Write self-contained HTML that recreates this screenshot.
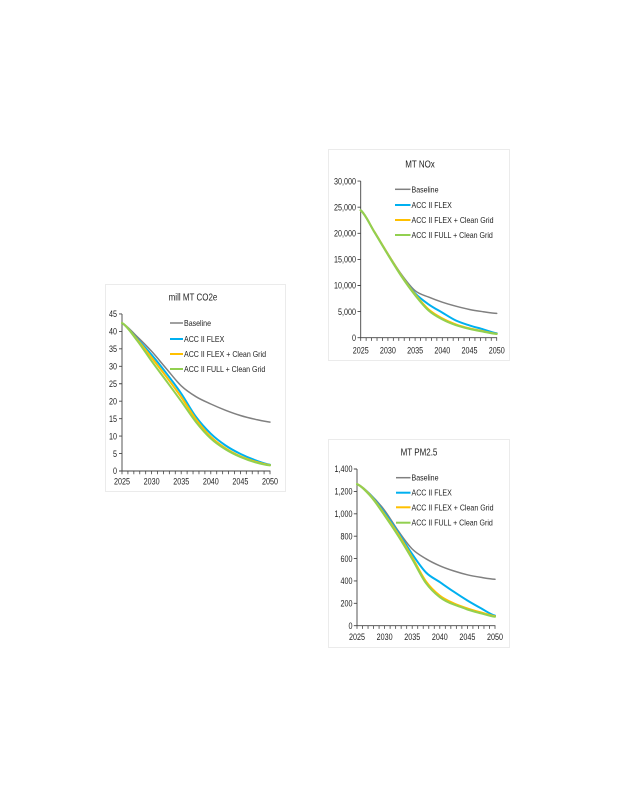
<!DOCTYPE html>
<html><head><meta charset="utf-8"><style>
html,body{margin:0;padding:0;background:#fff;}
svg{display:block;}
text{font-family:"Liberation Sans",Arial,sans-serif;fill:#1e1e1e;}
</style></head><body>
<svg width="618" height="800" viewBox="0 0 618 800" xmlns="http://www.w3.org/2000/svg">
<rect x="0" y="0" width="618" height="800" fill="#fff"/>

<!-- ================= CO2 chart ================= -->
<rect x="105.5" y="284.5" width="180" height="207" fill="#fff" stroke="#ebebeb"/>
<text transform="translate(193,300.7) scale(0.8,1)" text-anchor="middle" font-size="10">mill MT CO2e</text>
<path d="M122,314V471H270.4" fill="none" stroke="#444" stroke-width="0.9"/>
<path d="M119,471H122M119,453.55H122M119,436.1H122M119,418.65H122M119,401.2H122M119,383.75H122M119,366.3H122M119,348.85H122M119,331.4H122M119,313.95H122" stroke="#444" stroke-width="0.9"/>
<line x1="121.6" y1="472.6" x2="270.5" y2="472.6" stroke="#444" stroke-width="3.2" stroke-dasharray="0.8 5.12"/>
<g font-size="9">
<text transform="translate(117,474.2) scale(0.8,1)" text-anchor="end">0</text>
<text transform="translate(117,456.75) scale(0.8,1)" text-anchor="end">5</text>
<text transform="translate(117,439.3) scale(0.8,1)" text-anchor="end">10</text>
<text transform="translate(117,421.85) scale(0.8,1)" text-anchor="end">15</text>
<text transform="translate(117,404.4) scale(0.8,1)" text-anchor="end">20</text>
<text transform="translate(117,386.95) scale(0.8,1)" text-anchor="end">25</text>
<text transform="translate(117,369.5) scale(0.8,1)" text-anchor="end">30</text>
<text transform="translate(117,352.05) scale(0.8,1)" text-anchor="end">35</text>
<text transform="translate(117,334.6) scale(0.8,1)" text-anchor="end">40</text>
<text transform="translate(117,317.15) scale(0.8,1)" text-anchor="end">45</text>
<text transform="translate(122,484.5) scale(0.8,1)" text-anchor="middle">2025</text>
<text transform="translate(151.6,484.5) scale(0.8,1)" text-anchor="middle">2030</text>
<text transform="translate(181.2,484.5) scale(0.8,1)" text-anchor="middle">2035</text>
<text transform="translate(210.8,484.5) scale(0.8,1)" text-anchor="middle">2040</text>
<text transform="translate(240.4,484.5) scale(0.8,1)" text-anchor="middle">2045</text>
<text transform="translate(270,484.5) scale(0.8,1)" text-anchor="middle">2050</text>
</g>
<g fill="none" stroke-linejoin="round" stroke-linecap="round">
<path stroke="#808080" stroke-width="1.5" d="M122,323 C126.93,325.22 131.87,331.58 136.8,336.3 C141.73,341.02 146.67,345.9 151.6,351.3 C156.53,356.7 161.47,362.95 166.4,368.7 C171.33,374.45 176.27,381.13 181.2,385.8 C186.13,390.47 191.07,393.67 196,396.7 C200.93,399.73 205.87,401.73 210.8,404 C215.73,406.27 220.67,408.38 225.6,410.3 C230.53,412.22 235.47,414 240.4,415.5 C245.33,417 250.27,418.2 255.2,419.3 C260.13,420.4 265.07,421.63 270,422.1"/>
<path stroke="#00b0f0" stroke-width="2" d="M122,323 C126.93,325.57 131.87,333.1 136.8,338.4 C141.73,343.7 146.67,348.98 151.6,354.8 C156.53,360.62 161.47,366.85 166.4,373.3 C171.33,379.75 176.27,386.23 181.2,393.5 C186.13,400.77 191.07,410.2 196,416.9 C200.93,423.6 205.87,428.93 210.8,433.7 C215.73,438.47 220.67,442.13 225.6,445.5 C230.53,448.87 235.47,451.45 240.4,453.9 C245.33,456.35 250.27,458.4 255.2,460.2 C260.13,462 265.07,463.95 270,464.7"/>
<path stroke="#ffc000" stroke-width="2" d="M122,323 C126.93,325.68 131.87,333.33 136.8,339.1 C141.73,344.87 146.67,351.32 151.6,357.6 C156.53,363.88 161.47,370.23 166.4,376.8 C171.33,383.37 176.27,389.92 181.2,397 C186.13,404.08 191.07,412.67 196,419.3 C200.93,425.93 205.87,431.97 210.8,436.8 C215.73,441.63 220.67,445.05 225.6,448.3 C230.53,451.55 235.47,454.08 240.4,456.3 C245.33,458.52 250.27,460.13 255.2,461.6 C260.13,463.07 265.07,464.52 270,465.1"/>
<path stroke="#92d050" stroke-width="2" d="M122,323 C126.93,325.85 131.87,333.75 136.8,340.1 C141.73,346.45 146.67,354.28 151.6,361.1 C156.53,367.92 161.47,374.32 166.4,381 C171.33,387.68 176.27,394.35 181.2,401.2 C186.13,408.05 191.07,415.88 196,422.1 C200.93,428.32 205.87,433.95 210.8,438.5 C215.73,443.05 220.67,446.32 225.6,449.4 C230.53,452.48 235.47,454.85 240.4,457 C245.33,459.15 250.27,460.9 255.2,462.3 C260.13,463.7 265.07,464.88 270,465.4"/>
</g>
<line x1="170" y1="323" x2="183" y2="323" stroke="#808080" stroke-width="1.5"/>
<line x1="170" y1="339" x2="183" y2="339" stroke="#00b0f0" stroke-width="2"/>
<line x1="170" y1="354" x2="183" y2="354" stroke="#ffc000" stroke-width="2"/>
<line x1="170" y1="369" x2="183" y2="369" stroke="#92d050" stroke-width="2"/>
<g font-size="8.5">
<text transform="translate(184,326) scale(0.83,1)">Baseline</text>
<text transform="translate(184,342) scale(0.83,1)">ACC II FLEX</text>
<text transform="translate(184,357) scale(0.83,1)">ACC II FLEX + Clean Grid</text>
<text transform="translate(184,372) scale(0.83,1)">ACC II FULL + Clean Grid</text>
</g>

<!-- ================= NOx chart ================= -->
<rect x="328.5" y="149.5" width="181" height="211" fill="#fff" stroke="#ebebeb"/>
<text transform="translate(420,167.5) scale(0.8,1)" text-anchor="middle" font-size="10">MT NOx</text>
<path d="M360.7,181.1V337.7H497.1" fill="none" stroke="#444" stroke-width="0.9"/>
<path d="M357.5,337.7H360.7M357.5,311.6H360.7M357.5,285.5H360.7M357.5,259.4H360.7M357.5,233.3H360.7M357.5,207.2H360.7M357.5,181.1H360.7" stroke="#444" stroke-width="0.9"/>
<line x1="360.3" y1="339.3" x2="497.2" y2="339.3" stroke="#444" stroke-width="3.2" stroke-dasharray="0.8 4.64"/>
<g font-size="9">
<text transform="translate(356,340.9) scale(0.8,1)" text-anchor="end">0</text>
<text transform="translate(356,314.8) scale(0.8,1)" text-anchor="end">5,000</text>
<text transform="translate(356,288.7) scale(0.8,1)" text-anchor="end">10,000</text>
<text transform="translate(356,262.6) scale(0.8,1)" text-anchor="end">15,000</text>
<text transform="translate(356,236.5) scale(0.8,1)" text-anchor="end">20,000</text>
<text transform="translate(356,210.4) scale(0.8,1)" text-anchor="end">25,000</text>
<text transform="translate(356,184.3) scale(0.8,1)" text-anchor="end">30,000</text>
<text transform="translate(360.7,353.5) scale(0.8,1)" text-anchor="middle">2025</text>
<text transform="translate(387.9,353.5) scale(0.8,1)" text-anchor="middle">2030</text>
<text transform="translate(415.1,353.5) scale(0.8,1)" text-anchor="middle">2035</text>
<text transform="translate(442.3,353.5) scale(0.8,1)" text-anchor="middle">2040</text>
<text transform="translate(469.5,353.5) scale(0.8,1)" text-anchor="middle">2045</text>
<text transform="translate(496.7,353.5) scale(0.8,1)" text-anchor="middle">2050</text>
</g>
<g fill="none" stroke-linejoin="round" stroke-linecap="round">
<path stroke="#808080" stroke-width="1.5" d="M360.7,210.3 C365.23,213.87 369.77,224.47 374.3,231.7 C378.83,238.93 383.37,246.57 387.9,253.7 C392.43,260.83 396.97,268.33 401.5,274.5 C406.03,280.67 410.57,286.93 415.1,290.7 C419.63,294.47 424.17,295.18 428.7,297.1 C433.23,299.02 437.77,300.68 442.3,302.2 C446.83,303.72 451.37,304.98 455.9,306.2 C460.43,307.42 464.97,308.58 469.5,309.5 C474.03,310.42 478.57,311.05 483.1,311.7 C487.63,312.35 492.17,313.12 496.7,313.4"/>
<path stroke="#00b0f0" stroke-width="2" d="M360.7,210.3 C365.23,213.87 369.77,224.38 374.3,231.7 C378.83,239.02 383.37,246.88 387.9,254.2 C392.43,261.52 396.97,269.08 401.5,275.6 C406.03,282.12 410.57,288.5 415.1,293.3 C419.63,298.1 424.17,301.18 428.7,304.4 C433.23,307.62 437.77,309.92 442.3,312.6 C446.83,315.28 451.37,318.37 455.9,320.5 C460.43,322.63 464.97,323.93 469.5,325.4 C474.03,326.87 478.57,327.98 483.1,329.3 C487.63,330.62 492.17,332.63 496.7,333.3"/>
<path stroke="#ffc000" stroke-width="2" d="M360.7,210.3 C365.23,213.87 369.77,224.38 374.3,231.7 C378.83,239.02 383.37,246.85 387.9,254.2 C392.43,261.55 396.97,269.1 401.5,275.8 C406.03,282.5 410.57,288.78 415.1,294.4 C419.63,300.02 424.17,305.5 428.7,309.5 C433.23,313.5 437.77,315.92 442.3,318.4 C446.83,320.88 451.37,322.73 455.9,324.4 C460.43,326.07 464.97,327.27 469.5,328.4 C474.03,329.53 478.57,330.3 483.1,331.2 C487.63,332.1 492.17,333.37 496.7,333.8"/>
<path stroke="#92d050" stroke-width="2" d="M360.7,210.3 C365.23,213.92 369.77,224.6 374.3,232 C378.83,239.4 383.37,247.3 387.9,254.7 C392.43,262.1 396.97,269.65 401.5,276.4 C406.03,283.15 410.57,289.5 415.1,295.2 C419.63,300.9 424.17,306.57 428.7,310.6 C433.23,314.63 437.77,316.97 442.3,319.4 C446.83,321.83 451.37,323.62 455.9,325.2 C460.43,326.78 464.97,327.83 469.5,328.9 C474.03,329.97 478.57,330.75 483.1,331.6 C487.63,332.45 492.17,333.6 496.7,334"/>
</g>
<line x1="395" y1="189.3" x2="410.5" y2="189.3" stroke="#808080" stroke-width="1.5"/>
<line x1="395" y1="205" x2="410.5" y2="205" stroke="#00b0f0" stroke-width="2"/>
<line x1="395" y1="220" x2="410.5" y2="220" stroke="#ffc000" stroke-width="2"/>
<line x1="395" y1="235" x2="410.5" y2="235" stroke="#92d050" stroke-width="2"/>
<g font-size="8.5">
<text transform="translate(411.5,192.3) scale(0.83,1)">Baseline</text>
<text transform="translate(411.5,208) scale(0.83,1)">ACC II FLEX</text>
<text transform="translate(411.5,223) scale(0.83,1)">ACC II FLEX + Clean Grid</text>
<text transform="translate(411.5,238) scale(0.83,1)">ACC II FULL + Clean Grid</text>
</g>

<!-- ================= PM2.5 chart ================= -->
<rect x="328.5" y="439.5" width="181" height="208" fill="#fff" stroke="#ebebeb"/>
<text transform="translate(419,455.5) scale(0.8,1)" text-anchor="middle" font-size="10">MT PM2.5</text>
<path d="M357,469V625.7H495.4" fill="none" stroke="#444" stroke-width="0.9"/>
<path d="M353.8,625.7H357M353.8,603.3H357M353.8,580.9H357M353.8,558.6H357M353.8,536.2H357M353.8,513.8H357M353.8,491.4H357M353.8,469H357" stroke="#444" stroke-width="0.9"/>
<line x1="356.6" y1="627.3" x2="495.5" y2="627.3" stroke="#444" stroke-width="3.2" stroke-dasharray="0.8 4.72"/>
<g font-size="9">
<text transform="translate(352.5,628.9) scale(0.8,1)" text-anchor="end">0</text>
<text transform="translate(352.5,606.5) scale(0.8,1)" text-anchor="end">200</text>
<text transform="translate(352.5,584.1) scale(0.8,1)" text-anchor="end">400</text>
<text transform="translate(352.5,561.8) scale(0.8,1)" text-anchor="end">600</text>
<text transform="translate(352.5,539.4) scale(0.8,1)" text-anchor="end">800</text>
<text transform="translate(352.5,517) scale(0.8,1)" text-anchor="end">1,000</text>
<text transform="translate(352.5,494.6) scale(0.8,1)" text-anchor="end">1,200</text>
<text transform="translate(352.5,472.2) scale(0.8,1)" text-anchor="end">1,400</text>
<text transform="translate(357,640) scale(0.8,1)" text-anchor="middle">2025</text>
<text transform="translate(384.6,640) scale(0.8,1)" text-anchor="middle">2030</text>
<text transform="translate(412.2,640) scale(0.8,1)" text-anchor="middle">2035</text>
<text transform="translate(439.8,640) scale(0.8,1)" text-anchor="middle">2040</text>
<text transform="translate(467.4,640) scale(0.8,1)" text-anchor="middle">2045</text>
<text transform="translate(495,640) scale(0.8,1)" text-anchor="middle">2050</text>
</g>
<g fill="none" stroke-linejoin="round" stroke-linecap="round">
<path stroke="#808080" stroke-width="1.5" d="M357,484.1 C361.6,485.88 366.2,490.42 370.8,494.8 C375.4,499.18 380,504.35 384.6,510.4 C389.2,516.45 393.8,524.67 398.4,531.1 C403,537.53 407.6,544.38 412.2,549 C416.8,553.62 421.4,556 426,558.8 C430.6,561.6 435.2,563.78 439.8,565.8 C444.4,567.82 449,569.4 453.6,570.9 C458.2,572.4 462.8,573.72 467.4,574.8 C472,575.88 476.6,576.65 481.2,577.4 C485.8,578.15 490.4,578.98 495,579.3"/>
<path stroke="#00b0f0" stroke-width="2" d="M357,484.1 C361.6,485.97 366.2,490.53 370.8,495.3 C375.4,500.07 380,506.45 384.6,512.7 C389.2,518.95 393.8,525.9 398.4,532.8 C403,539.7 407.6,547.48 412.2,554.1 C416.8,560.72 421.4,567.83 426,572.5 C430.6,577.17 435.2,578.92 439.8,582.1 C444.4,585.28 449,588.53 453.6,591.6 C458.2,594.67 462.8,597.7 467.4,600.5 C472,603.3 476.6,605.88 481.2,608.4 C485.8,610.92 490.4,614.4 495,615.6"/>
<path stroke="#ffc000" stroke-width="2" d="M357,484.1 C361.6,486.07 366.2,490.85 370.8,495.9 C375.4,500.95 380,507.97 384.6,514.4 C389.2,520.83 393.8,527.33 398.4,534.5 C403,541.67 407.6,549.57 412.2,557.4 C416.8,565.23 421.4,575.12 426,581.5 C430.6,587.88 435.2,592.07 439.8,595.7 C444.4,599.33 449,601.18 453.6,603.3 C458.2,605.42 462.8,606.87 467.4,608.4 C472,609.93 476.6,611.2 481.2,612.5 C485.8,613.8 490.4,615.58 495,616.2"/>
<path stroke="#92d050" stroke-width="2" d="M357,484.1 C361.6,486.17 366.2,491.27 370.8,496.5 C375.4,501.73 380,508.88 384.6,515.5 C389.2,522.12 393.8,528.93 398.4,536.2 C403,543.47 407.6,551.27 412.2,559.1 C416.8,566.93 421.4,576.85 426,583.2 C430.6,589.55 435.2,593.67 439.8,597.2 C444.4,600.73 449,602.85 453.6,604.4 C458.2,605.95 462.8,607.9 467.4,609.5 C472,611.1 476.6,612.18 481.2,613.4 C485.8,614.62 490.4,616.23 495,616.8"/>
</g>
<line x1="396" y1="477.7" x2="410.5" y2="477.7" stroke="#808080" stroke-width="1.5"/>
<line x1="396" y1="492.7" x2="410.5" y2="492.7" stroke="#00b0f0" stroke-width="2"/>
<line x1="396" y1="507.3" x2="410.5" y2="507.3" stroke="#ffc000" stroke-width="2"/>
<line x1="396" y1="522.7" x2="410.5" y2="522.7" stroke="#92d050" stroke-width="2"/>
<g font-size="8.5">
<text transform="translate(411.5,480.7) scale(0.83,1)">Baseline</text>
<text transform="translate(411.5,495.7) scale(0.83,1)">ACC II FLEX</text>
<text transform="translate(411.5,510.3) scale(0.83,1)">ACC II FLEX + Clean Grid</text>
<text transform="translate(411.5,525.7) scale(0.83,1)">ACC II FULL + Clean Grid</text>
</g>
</svg>
</body></html>
